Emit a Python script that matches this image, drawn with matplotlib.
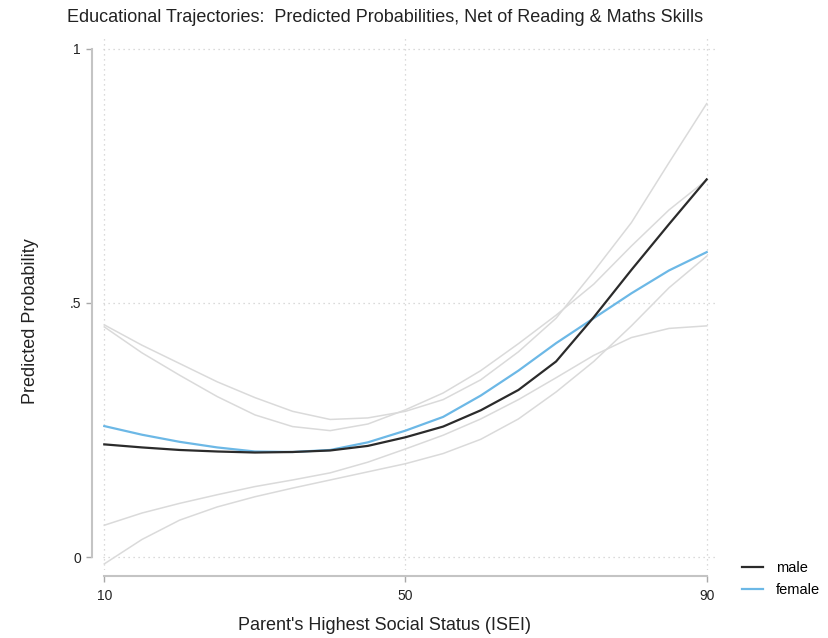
import matplotlib
matplotlib.use("Agg")
import matplotlib.pyplot as plt

plt.rcParams['font.family'] = ['Liberation Sans', 'DejaVu Sans']

# Data
isei = [10, 15, 20, 25, 30, 35, 40, 45, 50, 55, 60, 65, 70, 75, 80, 85, 90]
male = [0.222, 0.216, 0.211, 0.208, 0.206, 0.207, 0.210, 0.219, 0.236, 0.257,
        0.289, 0.329, 0.385, 0.472, 0.565, 0.655, 0.743]
female = [0.258, 0.241, 0.227, 0.216, 0.208, 0.207, 0.211, 0.226, 0.249, 0.276,
          0.318, 0.367, 0.421, 0.470, 0.519, 0.564, 0.600]
male_hi = [0.457, 0.417, 0.381, 0.345, 0.314, 0.287, 0.271, 0.274, 0.287, 0.310,
           0.349, 0.404, 0.470, 0.562, 0.658, 0.776, 0.892]
male_lo = [-0.013, 0.035, 0.073, 0.099, 0.119, 0.136, 0.152, 0.168, 0.184, 0.204,
           0.232, 0.272, 0.325, 0.385, 0.455, 0.530, 0.592]
female_hi = [0.453, 0.402, 0.358, 0.316, 0.280, 0.257, 0.249, 0.262, 0.290, 0.323,
             0.367, 0.420, 0.476, 0.537, 0.612, 0.683, 0.742]
female_lo = [0.063, 0.087, 0.106, 0.123, 0.139, 0.152, 0.166, 0.187, 0.213, 0.240,
             0.272, 0.310, 0.353, 0.397, 0.432, 0.450, 0.455]

xticks = [10, 50, 90]
yticks = [0, 0.5, 1]
ytick_labels = ['0', '.5', '1']

fig = plt.figure(figsize=(8.29, 6.38), dpi=100)
ax = fig.add_axes([103 / 829, 68 / 638, 614 / 829, 532 / 638])

ci_color = '#dadada'
for band in (male_hi, male_lo, female_hi, female_lo):
    ax.plot(isei, band, color=ci_color, lw=1.1, zorder=2)

ax.plot(isei, female, color='#6cb8e6', lw=1.6, label='female', zorder=3)
ax.plot(isei, male, color='#2b2b2b', lw=1.6, label='male', zorder=4)

ax.set_xlim(9.83, 91.37)
ax.set_ylim(-0.025, 1.021)
ax.set_xticks(xticks)
ax.set_xticklabels([str(t) for t in xticks])
ax.set_yticks(yticks)
ax.set_yticklabels(ytick_labels)

ax.grid(True, color='#cfcfcf', linestyle=(0, (1, 3)), lw=0.9)
ax.set_axisbelow(True)

for side in ('top', 'right'):
    ax.spines[side].set_visible(False)
ax.spines['left'].set_position(('outward', 8))
ax.spines['bottom'].set_position(('outward', 4))
ax.spines['left'].set_bounds(0, 1)
ax.spines['bottom'].set_bounds(10, 90)
for side in ('left', 'bottom'):
    ax.spines[side].set_color('#c4c4c4')
    ax.spines[side].set_linewidth(1.5)

ax.tick_params(axis='both', colors='#a8a8a8', length=4, width=1,
               labelcolor='#222222', labelsize=10)
ax.tick_params(axis='y', pad=4)
ax.tick_params(axis='x', pad=6)

# Axis titles and chart title placed as in the reference
fig.text(385 / 829, 1 - 625 / 638, "Parent's Highest Social Status (ISEI)",
         ha='center', va='center', fontsize=13, color='#222222')
fig.text(31 / 829, 1 - 321 / 638, 'Predicted Probability', rotation=90,
         ha='center', va='center', fontsize=13, color='#222222')
fig.text(385 / 829, 1 - 18 / 638,
         'Educational Trajectories:  Predicted Probabilities, Net of Reading & Maths Skills',
         ha='center', va='center', fontsize=13, color='#222222')

h, l = ax.get_legend_handles_labels()
fig.legend(h[::-1], l[::-1], loc='center left',
           bbox_to_anchor=(729 / 829, 1 - 579 / 638), frameon=False,
           fontsize=10.5, handlelength=1.4, handletextpad=0.9, labelspacing=0.6)

fig.savefig('out.png', dpi=100)
